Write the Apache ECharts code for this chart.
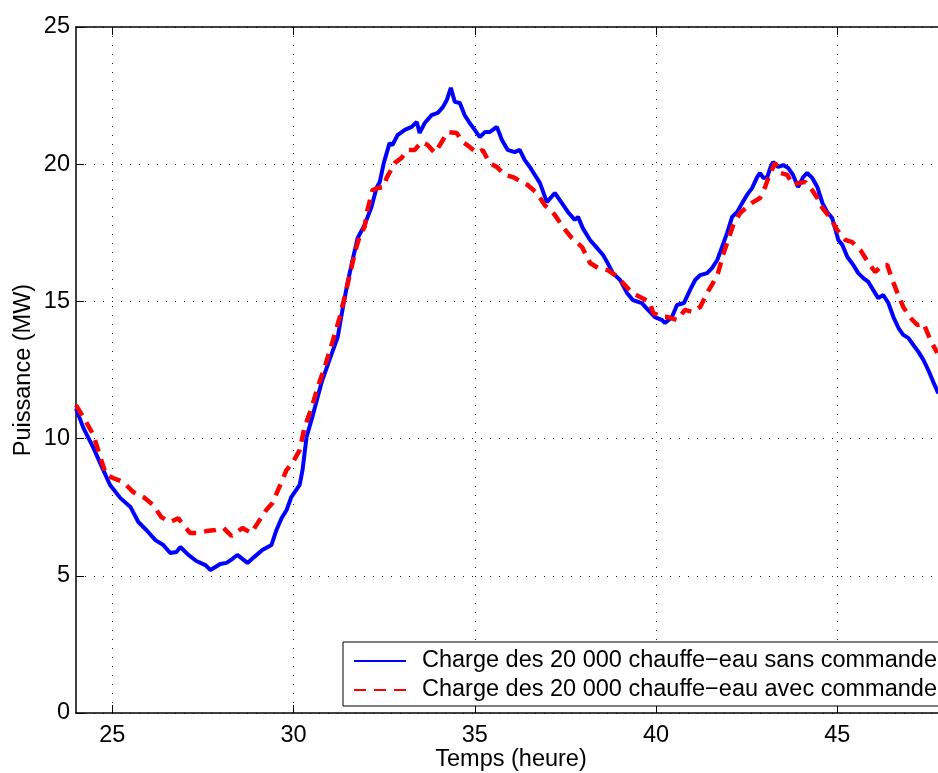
<!DOCTYPE html>
<html>
<head>
<meta charset="utf-8">
<script src="https://cdn.jsdelivr.net/npm/echarts@6/dist/echarts.min.js"></script>
<style>
  html, body { margin: 0; padding: 0; background: #fff; }
  #chart { width: 938px; height: 773px; }
</style>
</head>
<body>
<div id="chart"></div>
<script>
// Charge des chauffe-eau sans commande : temps (h) / puissance (MW)
const hoursSans = [
  24.00, 24.20, 24.48, 24.75, 24.94, 25.22, 25.50, 25.72, 25.94, 26.19,
  26.41, 26.60, 26.77, 26.88, 27.10, 27.32, 27.57, 27.71, 27.98, 28.15,
  28.31, 28.45, 28.73, 28.92, 29.14, 29.39, 29.53, 29.67, 29.81, 29.94,
  30.17, 30.25, 30.36, 30.52, 30.77, 30.99, 31.22, 31.35, 31.49, 31.63,
  31.77, 31.96, 32.15, 32.29, 32.38, 32.49, 32.65, 32.73, 32.87, 33.07,
  33.26, 33.40, 33.48, 33.62, 33.81, 33.98, 34.12, 34.23, 34.34, 34.45,
  34.59, 34.72, 34.86, 35.00, 35.14, 35.28, 35.41, 35.61, 35.75, 35.91,
  36.10, 36.24, 36.38, 36.52, 36.80, 36.99, 37.21, 37.40, 37.57, 37.76,
  37.85, 37.98, 38.18, 38.37, 38.54, 38.65, 38.81, 39.01, 39.20, 39.36,
  39.61, 39.78, 39.97, 40.17, 40.25, 40.44, 40.58, 40.77, 40.94, 41.08,
  41.22, 41.41, 41.55, 41.69, 41.82, 41.96, 42.10, 42.24, 42.38, 42.51,
  42.65, 42.79, 42.87, 42.96, 43.07, 43.15, 43.23, 43.37, 43.51, 43.65,
  43.78, 43.92, 44.06, 44.17, 44.31, 44.45, 44.59, 44.72, 44.86, 45.03,
  45.14, 45.28, 45.44, 45.58, 45.72, 45.86, 45.99, 46.13, 46.27, 46.41,
  46.55, 46.69, 46.82, 46.96, 47.10, 47.24, 47.38, 47.51, 47.65, 47.79
];
const powerSans = [
  11.10, 10.40, 9.66, 8.86, 8.31, 7.84, 7.51, 6.96, 6.67, 6.30,
  6.12, 5.83, 5.87, 6.05, 5.76, 5.54, 5.39, 5.21, 5.43, 5.47,
  5.61, 5.76, 5.47, 5.69, 5.94, 6.12, 6.67, 7.10, 7.40, 7.87,
  8.31, 8.86, 10.06, 10.79, 12.03, 12.86, 13.70, 14.69, 15.67, 16.51,
  17.31, 17.78, 18.44, 19.13, 19.35, 20.04, 20.77, 20.70, 21.06, 21.25,
  21.36, 21.54, 21.14, 21.50, 21.79, 21.87, 22.08, 22.34, 22.78, 22.27,
  22.23, 21.79, 21.50, 21.25, 20.99, 21.17, 21.17, 21.36, 20.88, 20.52,
  20.44, 20.52, 20.15, 19.90, 19.31, 18.62, 18.95, 18.59, 18.26, 17.97,
  18.08, 17.67, 17.24, 16.95, 16.69, 16.44, 16.03, 15.78, 15.31, 15.05,
  14.94, 14.69, 14.43, 14.32, 14.21, 14.43, 14.87, 14.94, 15.42, 15.78,
  15.96, 16.03, 16.22, 16.51, 16.98, 17.49, 18.08, 18.26, 18.59, 18.88,
  19.13, 19.53, 19.68, 19.50, 19.53, 19.86, 20.08, 19.90, 19.97, 19.86,
  19.61, 19.17, 19.53, 19.68, 19.50, 19.17, 18.59, 18.26, 18.04, 17.24,
  17.06, 16.62, 16.33, 16.03, 15.85, 15.71, 15.42, 15.12, 15.23, 14.94,
  14.43, 14.03, 13.78, 13.67, 13.41, 13.16, 12.86, 12.50, 12.06, 11.65
];

// Charge des chauffe-eau avec commande : temps (h) / puissance (MW)
const hoursAvec = [
  24.00, 24.25, 24.48, 24.67, 24.83, 25.03, 25.30, 25.58, 25.86, 26.13,
  26.35, 26.60, 26.82, 26.96, 27.15, 27.38, 27.60, 27.85, 28.07, 28.29,
  28.59, 28.84, 29.01, 29.25, 29.42, 29.61, 29.81, 29.97, 30.17, 30.30,
  30.50, 30.66, 30.86, 31.05, 31.27, 31.41, 31.55, 31.69, 31.82, 31.96,
  32.04, 32.18, 32.32, 32.49, 32.57, 32.79, 32.98, 33.15, 33.34, 33.54,
  33.70, 33.90, 34.09, 34.25, 34.50, 34.67, 34.86, 35.06, 35.22, 35.41,
  35.61, 35.83, 36.05, 36.30, 36.46, 36.71, 36.93, 37.21, 37.43, 37.68,
  37.96, 38.18, 38.40, 38.67, 38.87, 39.09, 39.34, 39.56, 39.83, 39.92,
  40.17, 40.33, 40.58, 40.80, 41.02, 41.22, 41.41, 41.57, 41.71, 41.85,
  41.99, 42.13, 42.32, 42.51, 42.68, 42.87, 43.01, 43.15, 43.29, 43.43,
  43.62, 43.78, 43.92, 44.12, 44.31, 44.45, 44.59, 44.81, 45.00, 45.22,
  45.41, 45.64, 45.86, 46.05, 46.24, 46.38, 46.52, 46.66, 46.82, 47.02,
  47.21, 47.38, 47.57, 47.76
];
const powerAvec = [
  11.22, 10.68, 10.13, 9.33, 8.67, 8.56, 8.42, 8.05, 7.87, 7.58,
  7.14, 6.96, 7.10, 6.85, 6.56, 6.56, 6.63, 6.67, 6.74, 6.45,
  6.74, 6.56, 6.92, 7.40, 7.65, 8.24, 8.86, 9.11, 9.58, 10.39,
  11.12, 11.84, 12.61, 13.41, 14.40, 15.16, 15.96, 16.76, 17.35, 17.71,
  18.33, 19.06, 19.13, 19.17, 19.50, 20.04, 20.23, 20.52, 20.52, 20.81,
  20.70, 20.41, 20.81, 21.17, 21.14, 20.81, 20.63, 20.41, 20.52, 20.04,
  19.90, 19.61, 19.53, 19.35, 19.24, 18.95, 18.51, 18.15, 17.71, 17.31,
  16.98, 16.40, 16.22, 16.14, 15.96, 15.67, 15.31, 15.16, 14.98, 14.58,
  14.43, 14.43, 14.32, 14.69, 14.61, 14.80, 15.31, 15.67, 16.03, 16.69,
  17.24, 17.78, 18.22, 18.44, 18.62, 18.77, 19.17, 19.68, 20.04, 19.68,
  19.61, 19.24, 19.31, 19.35, 19.05, 18.77, 18.40, 18.04, 17.60, 17.24,
  17.16, 16.87, 16.40, 16.07, 16.33, 16.33, 15.78, 15.31, 14.80, 14.40,
  14.14, 14.21, 13.59, 13.12
];

const seriesNames = [
  'Charge des 20 000 chauffe\u2212eau sans commande',
  'Charge des 20 000 chauffe\u2212eau avec commande'
];
const xTickValues = [25, 30, 35, 40, 45];
const xLabel = 'Temps (heure)';
const yLabel = 'Puissance (MW)';

const FONT = '"Liberation Sans", Arial, Helvetica, sans-serif';
const FS = 23.5;
const pair = (xs, ys) => xs.map((x, i) => [x, ys[i]]);

const axisLine = { show: true, onZero: false, lineStyle: { color: '#000', width: 1.5 } };
const innerTick = { show: true, inside: true, length: 8, lineStyle: { color: '#000', width: 1 } };
const dotted = { show: true, lineStyle: { color: '#222', width: 1, type: [1, 8] } };

const chart = echarts.init(document.getElementById('chart'), null, { renderer: 'canvas' });
chart.setOption({
  animation: false,
  backgroundColor: '#fff',
  textStyle: { fontFamily: FONT },
  grid: { left: 76, right: -8, top: 27, bottom: 60, containLabel: false, outerBoundsMode: 'none' },
  legend: {
    data: seriesNames,
    orient: 'vertical',
    left: 343,
    top: 642,
    itemWidth: 52,
    itemHeight: 14,
    itemGap: 5,
    padding: [7, 10, 4, 10],
    borderColor: '#000',
    borderWidth: 1,
    borderRadius: 0,
    backgroundColor: '#fff',
    selectedMode: false,
    itemStyle: { opacity: 0, borderWidth: 0 },
    textStyle: { fontFamily: FONT, fontSize: FS, color: '#000', padding: [0, 0, 0, 11] }
  },
  xAxis: [
    {
      type: 'value', position: 'bottom', min: 24, max: 48,
      axisLine: axisLine,
      axisTick: Object.assign({ customValues: xTickValues }, innerTick),
      axisLabel: { customValues: xTickValues, fontFamily: FONT, fontSize: FS, color: '#000', margin: 11 },
      splitLine: dotted,
      name: xLabel, nameLocation: 'middle', nameGap: 35, nameMoveOverlap: false,
      nameTextStyle: { fontFamily: FONT, fontSize: FS, color: '#000' }
    },
    {
      type: 'value', position: 'top', min: 24, max: 48,
      axisLine: axisLine,
      axisTick: Object.assign({ customValues: xTickValues }, innerTick),
      axisLabel: { show: false },
      splitLine: { show: false }
    }
  ],
  yAxis: {
    type: 'value', min: 0, max: 25, interval: 5,
    axisLine: axisLine,
    axisTick: innerTick,
    axisLabel: { fontFamily: FONT, fontSize: FS, color: '#000', margin: 6 },
    splitLine: dotted,
    name: yLabel, nameLocation: 'middle', nameGap: 40, nameRotate: 90, nameMoveOverlap: false,
    nameTextStyle: { fontFamily: FONT, fontSize: FS, color: '#000' }
  },
  series: [
    {
      name: seriesNames[0], type: 'line', xAxisIndex: 0,
      data: pair(hoursSans, powerSans),
      symbol: 'none', showSymbol: false, smooth: false,
      lineStyle: { color: '#0000ff', width: 4 },
      itemStyle: { color: '#0000ff' },
      z: 3
    },
    {
      name: seriesNames[1], type: 'line', xAxisIndex: 0,
      data: pair(hoursAvec, powerAvec),
      symbol: 'none', showSymbol: false, smooth: false,
      lineStyle: { color: '#ff0000', width: 4.5, type: [12, 8] },
      itemStyle: { color: '#ff0000' },
      z: 4
    }
  ]
});
</script>
</body>
</html>
